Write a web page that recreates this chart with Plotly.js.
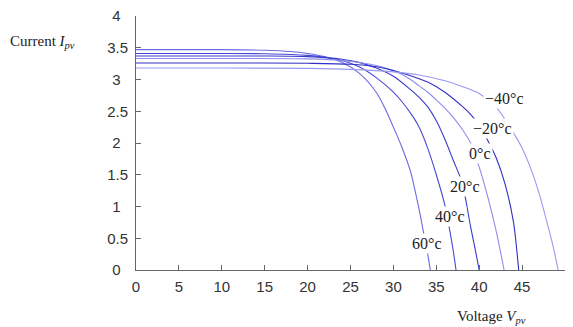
<!DOCTYPE html>
<html>
<head>
<meta charset="utf-8">
<script src="https://cdn.plot.ly/plotly-3.0.1.min.js"></script>
<style>html,body{margin:0;padding:0;background:#fff;}#chart{width:573px;height:327px;}</style>
</head>
<body>
<div id="chart"></div>
<script>
// Temperature labels
const temps = ['60°c', '40°c', '20°c', '0°c', '−20°c', '−40°c'];

// Voltage / current readings for each temperature curve
const v60 = [0, 10, 15, 18, 20, 22, 24, 26, 28, 29, 30, 31, 32, 33, 33.5, 34, 34.3];
const i60 = [3.47, 3.47, 3.46, 3.44, 3.41, 3.36, 3.27, 3.1, 2.8, 2.55, 2.25, 1.93, 1.55, 0.95, 0.6, 0.25, 0];

const v40 = [0, 10, 15, 20, 22, 24, 26, 28, 30, 31, 32, 33, 34, 35, 36, 36.6, 37, 37.3];
const i40 = [3.41, 3.41, 3.405, 3.38, 3.35, 3.3, 3.2, 3.03, 2.8, 2.65, 2.47, 2.25, 1.92, 1.5, 1.02, 0.6, 0.28, 0];

const v20 = [0, 10, 15, 20, 24, 26, 28, 30, 32, 33, 34, 35, 36, 37, 38, 39, 39.5, 40];
const i20 = [3.37, 3.37, 3.37, 3.36, 3.32, 3.27, 3.18, 3.05, 2.84, 2.72, 2.57, 2.35, 2.06, 1.72, 1.38, 0.68, 0.35, 0];

const v0 = [0, 10, 20, 24, 28, 30, 32, 33, 34, 35, 36, 37, 38, 39, 40, 41, 42, 42.9];
const i0 = [3.33, 3.33, 3.325, 3.3, 3.22, 3.14, 3.0, 2.9, 2.8, 2.68, 2.55, 2.4, 2.22, 2.0, 1.62, 1.15, 0.6, 0];

const vm20 = [0, 10, 20, 25, 28, 30, 32, 34, 36, 38, 39, 40, 41, 42, 43, 44, 44.6];
const im20 = [3.26, 3.26, 3.255, 3.24, 3.2, 3.14, 3.06, 2.96, 2.8, 2.58, 2.45, 2.28, 2.04, 1.76, 1.36, 0.75, 0];

const vm40 = [0, 10, 20, 25, 30, 33, 36, 38, 40, 42, 44, 45, 46, 47, 48, 48.6, 49.2];
const im40 = [3.18, 3.18, 3.175, 3.16, 3.12, 3.07, 2.98, 2.89, 2.78, 2.56, 2.16, 1.92, 1.6, 1.2, 0.7, 0.38, 0];

// Axis ticks
const xTicks = [0, 5, 10, 15, 20, 25, 30, 35, 40, 45, 50];
const xTickText = ['0', '5', '10', '15', '20', '25', '30', '35', '40', '45', '50'];
const yTicks = [0, 0.5, 1, 1.5, 2, 2.5, 3, 3.5, 4];
const yTickText = ['0', '0.5', '1', '1.5', '2', '2.5', '3', '3.5', '4'];

const series = [[v60, i60], [v40, i40], [v20, i20], [v0, i0], [vm20, im20], [vm40, im40]];
const colors = ['#6a6ae2', '#4848d6', '#3a3acc', '#8c8cee', '#3030c6', '#9a9af2'];
// label anchor positions (data coords)
const labelPos = [[33.9, 0.41], [36.65, 0.84], [38.4, 1.31], [40.1, 1.84], [41.55, 2.23], [43.0, 2.70]];

const traces = series.map((s, k) => ({
  x: s[0], y: s[1], type: 'scatter', mode: 'lines',
  name: temps[k],
  line: {color: colors[k], width: 1.1, shape: 'spline', smoothing: 0.8},
  hoverinfo: 'skip'
}));

const serif = 'Liberation Serif, Times New Roman, serif';
const annotations = temps.map((t, k) => ({
  x: labelPos[k][0], y: labelPos[k][1], xref: 'x', yref: 'y',
  text: t, showarrow: false, bgcolor: '#ffffff', borderpad: 1,
  font: {family: serif, size: 16, color: '#222'}
}));
annotations.push({
  xref: 'paper', yref: 'paper', x: -0.298, y: 0.898, xanchor: 'left', yanchor: 'middle',
  text: 'Current <i>I</i><sub><i>pv</i></sub>', showarrow: false,
  font: {family: serif, size: 15, color: '#222'}
});
annotations.push({
  xref: 'paper', yref: 'paper', x: 0.744, y: -0.185, xanchor: 'left', yanchor: 'middle',
  text: 'Voltage <i>V</i><sub><i>pv</i></sub>', showarrow: false,
  font: {family: serif, size: 15, color: '#222'}
});

const axisCommon = {
  showgrid: false, zeroline: false, showline: true, linecolor: '#666', linewidth: 1,
  ticks: 'inside', ticklen: 5, tickcolor: '#666', tickwidth: 1,
  tickfont: {family: 'Liberation Sans, Arial, sans-serif', size: 15, color: '#333'}
};

// single-character y labels are centred under the wider ones, as in the reference
const yTickShown = yTickText.map(t => t.length === 1 ? t + '\u2002' : t);

const layout = {
  width: 573, height: 327,
  margin: {l: 136, r: 8, t: 16, b: 57},
  paper_bgcolor: '#fff', plot_bgcolor: '#fff',
  showlegend: false,
  xaxis: Object.assign({}, axisCommon, {range: [0, 50], tickvals: xTicks, ticktext: xTickText, ticklabelstandoff: 3}),
  yaxis: Object.assign({}, axisCommon, {range: [0, 4], tickvals: yTicks, ticktext: yTickShown, ticklabelstandoff: 4}),
  annotations: annotations
};

Plotly.newPlot('chart', traces, layout, {staticPlot: true, displayModeBar: false});
</script>
</body>
</html>
